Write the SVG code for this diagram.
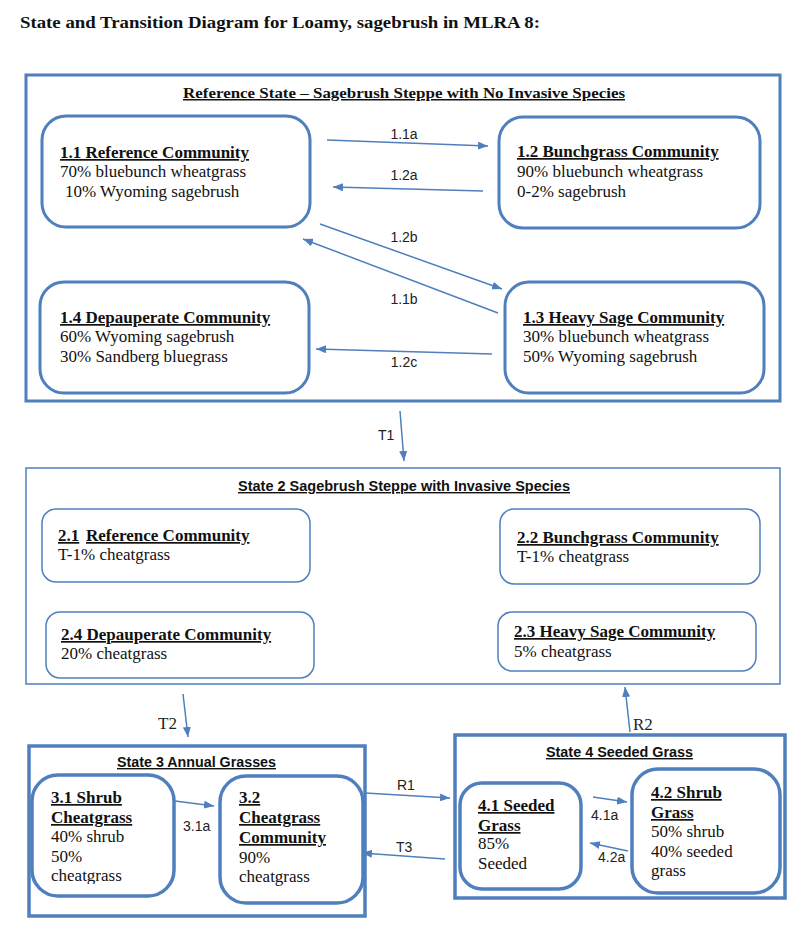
<svg xmlns="http://www.w3.org/2000/svg" width="800" height="936" viewBox="0 0 800 936">
<style>
.bg{fill:#fff}
.st{fill:none;stroke:#4f7fbd}
.thick{stroke-width:3}
.thin{stroke-width:1.5}
.heavy{stroke-width:3.5}
.nd{fill:#fff;stroke:#4f7fbd}
.tx{font-family:"Liberation Serif","Times New Roman",serif;font-size:17px;fill:#111}
.b{font-weight:bold}
.u{text-decoration:underline}
.sh{font-family:"Liberation Sans",Arial,sans-serif;font-size:14px;font-weight:bold;fill:#111;text-decoration:underline}
.lb{font-family:"Liberation Sans",Arial,sans-serif;font-size:14px;fill:#222}
.lbs{font-family:"Liberation Serif","Times New Roman",serif;font-size:17px;fill:#222}
.cn{fill:none;stroke:#4f7fbd;stroke-width:1.5;marker-end:url(#ah)}
</style>
<defs>
<marker id="ah" viewBox="0 0 10 8" refX="10" refY="4" markerWidth="10" markerHeight="8" markerUnits="userSpaceOnUse" orient="auto">
<path d="M0,0 L10,4 L0,8 z" fill="#4f7fbd"/>
</marker>
<clipPath id="c31"><rect x="30" y="770" width="150" height="114"/></clipPath>
<clipPath id="c42"><rect x="630" y="765" width="155" height="115"/></clipPath>
</defs>
<rect class="bg" x="0" y="0" width="800" height="936"/>
<text class="tx b" x="20" y="28" textLength="520" lengthAdjust="spacingAndGlyphs">State and Transition Diagram for Loamy, sagebrush in MLRA 8:</text>

<g id="state1">
<rect class="st thick" x="26" y="75" width="754" height="326"/>
<text class="tx b u" x="183" y="98" textLength="442" lengthAdjust="spacingAndGlyphs" style="font-size:15px">Reference State – Sagebrush Steppe with No Invasive Species</text>
</g>
<g id="n11">
<rect class="nd thick" x="42" y="116" width="268" height="111" rx="24"/>
<text class="tx b u" x="60" y="158">1.1 Reference Community</text>
<text class="tx" x="60" y="177">70% bluebunch wheatgrass</text>
<text class="tx" x="65" y="197">10% Wyoming sagebrush</text>
</g>
<g id="n12">
<rect class="nd thick" x="499" y="117" width="261" height="111" rx="24"/>
<text class="tx b u" x="517" y="157">1.2 Bunchgrass Community</text>
<text class="tx" x="517" y="177">90% bluebunch wheatgrass</text>
<text class="tx" x="517" y="197">0-2% sagebrush</text>
</g>
<g id="n13">
<rect class="nd thick" x="505" y="282" width="259" height="111" rx="24"/>
<text class="tx b u" x="523" y="323">1.3 Heavy Sage Community</text>
<text class="tx" x="523" y="342">30% bluebunch wheatgrass</text>
<text class="tx" x="523" y="362">50% Wyoming sagebrush</text>
</g>
<g id="n14">
<rect class="nd thick" x="40" y="282" width="269" height="111" rx="24"/>
<text class="tx b u" x="60" y="323">1.4 Depauperate Community</text>
<text class="tx" x="60" y="342">60% Wyoming sagebrush</text>
<text class="tx" x="60" y="362">30% Sandberg bluegrass</text>
</g>

<g id="state2">
<rect class="st thin" x="26" y="468" width="754" height="216"/>
<text class="sh" x="238" y="491" textLength="332" lengthAdjust="spacingAndGlyphs">State 2 Sagebrush Steppe with Invasive Species</text>
</g>
<g id="n21">
<rect class="nd thin" x="42" y="509" width="268" height="73" rx="14"/>
<text class="tx b" x="58" y="541"><tspan class="u">2.1</tspan><tspan class="u" x="86">Reference Community</tspan></text>
<text class="tx" x="58" y="560">T-1% cheatgrass</text>
</g>
<g id="n22">
<rect class="nd thin" x="500" y="509" width="260" height="75" rx="14"/>
<text class="tx b u" x="517" y="543">2.2 Bunchgrass Community</text>
<text class="tx" x="517" y="562">T-1% cheatgrass</text>
</g>
<g id="n24">
<rect class="nd thin" x="46" y="612" width="268" height="66" rx="14"/>
<text class="tx b u" x="61" y="640">2.4 Depauperate Community</text>
<text class="tx" x="61" y="659">20% cheatgrass</text>
</g>
<g id="n23">
<rect class="nd thin" x="498" y="612" width="258" height="59" rx="14"/>
<text class="tx b u" x="514" y="637">2.3 Heavy Sage Community</text>
<text class="tx" x="514" y="657">5% cheatgrass</text>
</g>

<g id="state3">
<rect class="st heavy" x="29" y="746" width="336" height="170"/>
<text class="sh" x="117" y="767" textLength="159" lengthAdjust="spacingAndGlyphs">State 3 Annual Grasses</text>
</g>
<g id="n31">
<rect class="nd heavy" x="32" y="775" width="142" height="121" rx="26"/>
<g clip-path="url(#c31)">
<text class="tx b u" x="51" y="803">3.1 Shrub</text>
<text class="tx b u" x="51" y="823">Cheatgrass</text>
<text class="tx" x="51" y="842">40% shrub</text>
<text class="tx" x="51" y="862">50%</text>
<text class="tx" x="51" y="881">cheatgrass</text>
</g>
</g>
<g id="n32">
<rect class="nd heavy" x="220" y="776" width="143" height="127" rx="26"/>
<text class="tx b u" x="239" y="803">3.2</text>
<text class="tx b u" x="239" y="823">Cheatgrass</text>
<text class="tx b u" x="239" y="843">Community</text>
<text class="tx" x="239" y="863">90%</text>
<text class="tx" x="239" y="882">cheatgrass</text>
</g>

<g id="state4">
<rect class="st heavy" x="455" y="735" width="330" height="163"/>
<text class="sh" x="546" y="757" textLength="147" lengthAdjust="spacingAndGlyphs">State 4 Seeded Grass</text>
</g>
<g id="n41">
<rect class="nd heavy" x="460" y="783" width="121" height="106" rx="22"/>
<text class="tx b u" x="478" y="811">4.1 Seeded</text>
<text class="tx b u" x="478" y="831">Grass</text>
<text class="tx" x="478" y="849">85%</text>
<text class="tx" x="478" y="869">Seeded</text>
</g>
<g id="n42">
<rect class="nd heavy" x="632" y="769" width="148" height="124" rx="26"/>
<g clip-path="url(#c42)">
<text class="tx b u" x="651" y="798">4.2 Shrub</text>
<text class="tx b u" x="651" y="818">Grass</text>
<text class="tx" x="651" y="837">50% shrub</text>
<text class="tx" x="651" y="857">40% seeded</text>
<text class="tx" x="651" y="876">grass</text>
</g>
</g>

<g id="connectors">
<line class="cn" x1="327" y1="140" x2="488" y2="146"/>
<line class="cn" x1="483" y1="191" x2="333" y2="187"/>
<line class="cn" x1="320" y1="224" x2="502" y2="289"/>
<line class="cn" x1="498" y1="313" x2="303" y2="239"/>
<line class="cn" x1="492" y1="354" x2="316" y2="349"/>
<line class="cn" x1="400" y1="411" x2="404" y2="461"/>
<line class="cn" x1="183" y1="694" x2="188" y2="737"/>
<line class="cn" x1="175" y1="801" x2="214" y2="806"/>
<line class="cn" x1="365" y1="793" x2="450" y2="798"/>
<line class="cn" x1="445" y1="859" x2="362" y2="853"/>
<line class="cn" x1="593" y1="797" x2="627" y2="802"/>
<line class="cn" x1="628" y1="851" x2="590" y2="843"/>
<line class="cn" x1="630" y1="732" x2="625" y2="687"/>
<text class="lb" x="404" y="139" text-anchor="middle">1.1a</text>
<text class="lb" x="404" y="180" text-anchor="middle">1.2a</text>
<text class="lb" x="404" y="242" text-anchor="middle">1.2b</text>
<text class="lb" x="404" y="304" text-anchor="middle">1.1b</text>
<text class="lb" x="404" y="367" text-anchor="middle">1.2c</text>
<text class="lb" x="378" y="440">T1</text>
<text class="lbs" x="158" y="729">T2</text>
<text class="lb" x="183" y="831">3.1a</text>
<text class="lb" x="397" y="790">R1</text>
<text class="lb" x="396" y="852">T3</text>
<text class="lb" x="591" y="820">4.1a</text>
<text class="lb" x="598" y="862">4.2a</text>
<text class="lbs" x="633" y="730">R2</text>
</g>
</svg>
